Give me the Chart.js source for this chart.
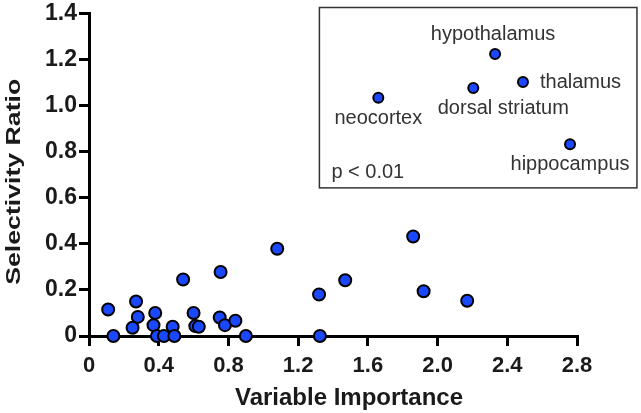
<!DOCTYPE html>
<html>
<head>
<meta charset="utf-8">
<script src="https://cdn.jsdelivr.net/npm/chart.js@4.4.1/dist/chart.umd.min.js"></script>
<style>
  html, body { margin: 0; padding: 0; background: #fff; }
  #wrap { width: 641px; height: 413px; }
</style>
</head>
<body>
<div id="wrap"><canvas id="chart" width="641" height="413"></canvas></div>
<script>
// main scatter: variable importance vs selectivity ratio
const importance  = [0.11, 0.14, 0.25, 0.27, 0.28, 0.37, 0.38, 0.39, 0.43, 0.48, 0.49, 0.54, 0.60, 0.61, 0.63,
                     0.75, 0.755, 0.78, 0.84, 0.90, 1.08, 1.32, 1.325, 1.47, 1.86, 1.92, 2.17];
const selectivity = [0.115, 0, 0.036, 0.15, 0.083, 0.047, 0.10, 0, 0, 0.04, 0, 0.245, 0.10, 0.043, 0.04,
                     0.08, 0.278, 0.047, 0.066, 0, 0.379, 0.18, 0, 0.242, 0.432, 0.194, 0.153];

// inset: brain regions
const regions     = ['neocortex', 'dorsal striatum', 'hypothalamus', 'thalamus', 'hippocampus'];
const regionX     = [1.66, 2.205, 2.33, 2.49, 2.76];
const regionY     = [1.034, 1.077, 1.224, 1.103, 0.832];
const insetNote   = 'p < 0.01';

const xTickValues = [0, 0.4, 0.8, 1.2, 1.6, 2.0, 2.4, 2.8];
const xTickLabels = ['0', '0.4', '0.8', '1.2', '1.6', '2.0', '2.4', '2.8'];
const yTickValues = [0, 0.2, 0.4, 0.6, 0.8, 1.0, 1.2, 1.4];
const yTickLabels = ['0', '0.2', '0.4', '0.6', '0.8', '1.0', '1.2', '1.4'];

const xTitle = 'Variable Importance';
const yTitle = 'Selectivity Ratio';

// layout of the inset frame, in data units: left, right, top, bottom
const insetFrame = [1.322, 3.144, 1.426, 0.643];
// label placement around each region point: dx, dy, align
const labelPlace = [[0, 21, 'center'], [30, 21, 'center'], [-2, -20, 'center'], [17, 1, 'left'], [0, 20, 'center']];

const FONT = "'Liberation Sans', Arial, sans-serif";
const BLUE = '#1a48ff';
const INK = '#1a1a1a';

const insetPlugin = {
  id: 'inset',
  beforeDatasetsDraw(chart) {
    const { ctx, scales: { x, y } } = chart;
    const l = x.getPixelForValue(insetFrame[0]), r = x.getPixelForValue(insetFrame[1]);
    const t = y.getPixelForValue(insetFrame[2]), b = y.getPixelForValue(insetFrame[3]);
    ctx.save();
    ctx.strokeStyle = '#333';
    ctx.lineWidth = 1.5;
    ctx.strokeRect(l, t, r - l, b - t);
    ctx.fillStyle = '#333';
    ctx.font = `20px ${FONT}`;
    ctx.textBaseline = 'middle';
    ctx.textAlign = 'left';
    ctx.fillText(insetNote, l + 12, b - 15);
    regions.forEach((name, i) => {
      const px = x.getPixelForValue(regionX[i]);
      const py = y.getPixelForValue(regionY[i]);
      const [dx, dy, align] = labelPlace[i];
      ctx.textAlign = align;
      ctx.fillText(name, px + dx, py + dy);
    });
    ctx.restore();
  }
};

// axis titles drawn by hand so they can sit off-centre and be stretched like the original
const titlePlugin = {
  id: 'titles',
  afterDraw(chart) {
    const { ctx, chartArea: a } = chart;
    ctx.save();
    ctx.fillStyle = INK;
    ctx.textAlign = 'center';
    ctx.textBaseline = 'alphabetic';
    ctx.font = `bold 24px ${FONT}`;
    ctx.fillText(xTitle, (a.left + a.right) / 2 + 16, 405);

    ctx.font = `bold 21px ${FONT}`;
    ctx.translate(19.5, (a.top + a.bottom) / 2 + 7);
    ctx.rotate(-Math.PI / 2);
    ctx.scale(1.27, 1);
    ctx.fillText(yTitle, 0, 0);
    ctx.restore();
  }
};

const axisCommon = {
  type: 'linear',
  border: { display: true, color: '#000', width: 3 },
  grid: { drawOnChartArea: false, drawTicks: true, tickLength: 10, tickWidth: 3, lineWidth: 3, tickColor: '#000' },
};

new Chart(document.getElementById('chart').getContext('2d'), {
  type: 'scatter',
  data: {
    datasets: [
      {
        label: 'variables',
        data: importance.map((v, i) => ({ x: v, y: selectivity[i] })),
        backgroundColor: BLUE, borderColor: '#000', borderWidth: 2, pointRadius: 6,
        clip: false
      },
      {
        label: 'regions',
        data: regionX.map((v, i) => ({ x: v, y: regionY[i] })),
        backgroundColor: BLUE, borderColor: '#000', borderWidth: 2, pointRadius: 5,
        clip: false
      }
    ]
  },
  options: {
    responsive: false,
    animation: false,
    events: [],
    layout: { padding: { top: 12, right: 64, bottom: 0, left: 0 } },
    plugins: { legend: { display: false }, tooltip: { enabled: false } },
    scales: {
      x: {
        ...axisCommon,
        min: 0, max: 2.8,
        afterBuildTicks: s => { s.ticks = xTickValues.map(v => ({ value: v })); },
        afterFit: s => { s.height = 77; },
        ticks: {
          padding: 7, color: INK, maxRotation: 0, autoSkip: false,
          font: { family: FONT, size: 22, weight: 'bold' },
          callback: (v, i) => xTickLabels[i]
        },
        title: { display: false }
      },
      y: {
        ...axisCommon,
        min: 0, max: 1.4,
        afterBuildTicks: s => { s.ticks = yTickValues.map(v => ({ value: v })); },
        afterFit: s => { s.width = 89; },
        ticks: {
          padding: 2, color: INK, autoSkip: false,
          font: { family: FONT, size: 23, weight: 'bold', lineHeight: 1 },
          callback: (v, i) => yTickLabels[i]
        },
        title: { display: false }
      }
    }
  },
  plugins: [insetPlugin, titlePlugin]
});
</script>
</body>
</html>
